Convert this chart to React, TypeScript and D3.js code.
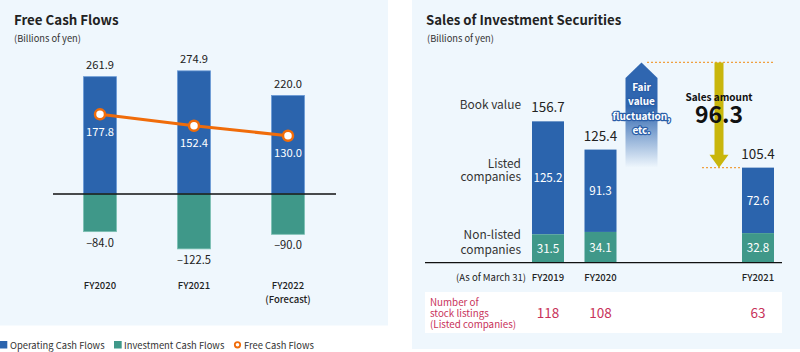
import React from "react";
import * as d3 from "d3";

// ---------- Left chart data ----------
const fcfCategories = ["FY2020", "FY2021", "FY2022"];
const fcfSubLabels = ["", "", "(Forecast)"];
const operatingCF = [261.9, 274.9, 220.0];
const investmentCF = [-84.0, -122.5, -90.0];
const freeCF = [177.8, 152.4, 130.0];
const legendLabels = ["Operating Cash Flows", "Investment Cash Flows", "Free Cash Flows"];

// ---------- Right chart data ----------
const secCategories = ["FY2019", "FY2020", "FY2021"];
const listedValues = [125.2, 91.3, 72.6];
const nonListedValues = [31.5, 34.1, 32.8];
const stockListings = [118, 108, 63];
const salesAmount = 96.3;
const preSaleLevel = 222; // decorative level of the upper dotted line
const fvLines = ["Fair", "value", "fluctuation,", "etc."];

const BLUE = "#2b64ad";
const BLUE_STROKE = "#6b9bd6";
const GREEN = "#3f9889";
const GREEN_STROKE = "#7cc0b3";
const ORANGE = "#f06c0a";
const PINK = "#c8325a";
const FONT = "'Noto Sans CJK JP', 'Noto Sans', sans-serif";

export default function App() {
  // Left scales
  const xL = d3.scalePoint<string>().domain(fcfCategories).range([100, 288]);
  const yL = d3.scaleLinear().domain([-150, 300]).range([194 + 150 * 0.448, 194 - 300 * 0.448]);
  const bwL = 33;
  const line = d3
    .line<number>()
    .x((_, i) => xL(fcfCategories[i])!)
    .y((d) => yL(d));

  // Right scales
  const xR = d3
    .scalePoint<string>()
    .domain(["FY2019", "FY2020", "_fv", "_sales", "FY2021"])
    .range([548, 758]);
  const yR = d3.scaleLinear().domain([0, 160]).range([262.7, 262.7 - 160 * 0.902]);
  const bwR = 32;

  const fvX = xR("FY2020")! + 41;
  const salesX = xR("FY2021")! - 39;
  const topY = yR(preSaleLevel);
  const lastTotal = listedValues[2] + nonListedValues[2];
  const lastTopY = yR(lastTotal);

  return (
    <>
      <style>{`body{margin:0}`}</style>
      <svg width={800} height={352} style={{ display: "block", fontFamily: FONT }}>
        <defs>
          <linearGradient id="fvGrad" x1="0" y1="0" x2="0" y2="1">
            <stop offset="0" stopColor="#2f66b0" stopOpacity={1} />
            <stop offset="0.42" stopColor="#2f66b0" stopOpacity={1} />
            <stop offset="1" stopColor="#2f66b0" stopOpacity={0} />
          </linearGradient>
        </defs>
        <rect x={0} y={0} width={800} height={352} fill="#ffffff" />
        {/* ---------------- Left panel ---------------- */}
        <rect x={0} y={0} width={388} height={325.5} fill="#eff7fd" />
        <text x={14} y={25} fontSize={13.3} fontWeight={700} fill="#222">
          Free Cash Flows
        </text>
        <text x={14} y={42} fontSize={9.3} fill="#333">
          (Billions of yen)
        </text>
        {fcfCategories.map((c, i) => {
          const cx = xL(c)!;
          return (
            <g key={c}>
              <rect
                x={cx - bwL / 2}
                y={yL(operatingCF[i])}
                width={bwL}
                height={yL(0) - yL(operatingCF[i])}
                fill={BLUE}
                stroke={BLUE_STROKE}
                strokeWidth={0.8}
              />
              <rect
                x={cx - bwL / 2}
                y={yL(0)}
                width={bwL}
                height={yL(investmentCF[i]) - yL(0)}
                fill={GREEN}
                stroke={GREEN_STROKE}
                strokeWidth={0.8}
              />
              <text x={cx} y={yL(operatingCF[i]) - 7.5} textAnchor="middle" fontSize={11.2} fill="#222">
                {operatingCF[i].toFixed(1)}
              </text>
              <text x={cx} y={yL(investmentCF[i]) + 15} textAnchor="middle" fontSize={11.2} fill="#222">
                {"\u2013" + Math.abs(investmentCF[i]).toFixed(1)}
              </text>
              <text x={cx} y={yL(freeCF[i]) + 21.7} textAnchor="middle" fontSize={11.2} fill="#fff">
                {freeCF[i].toFixed(1)}
              </text>
              <text x={cx} y={289.3} textAnchor="middle" fontSize={9.5} fontWeight={500} fill="#222">
                {c}
              </text>
              {fcfSubLabels[i] && (
                <text x={cx} y={302.5} textAnchor="middle" fontSize={9.5} fontWeight={500} fill="#222">
                  {fcfSubLabels[i]}
                </text>
              )}
            </g>
          );
        })}
        <line x1={53} x2={336} y1={yL(0)} y2={yL(0)} stroke="#111" strokeWidth={1.3} />
        <path d={line(freeCF)!} fill="none" stroke={ORANGE} strokeWidth={3} />
        {freeCF.map((v, i) => (
          <circle key={i} cx={xL(fcfCategories[i])!} cy={yL(v)} r={5} fill="#fff" stroke={ORANGE} strokeWidth={2.5} />
        ))}
        {/* Legend */}
        <rect x={-1} y={341} width={8.3} height={7.5} fill={BLUE} />
        <text x={10} y={349} fontSize={9.4} fill="#333">{legendLabels[0]}</text>
        <rect x={114} y={341} width={7.7} height={7.5} fill={GREEN} />
        <text x={124} y={349} fontSize={9.4} fill="#333">{legendLabels[1]}</text>
        <circle cx={237.5} cy={344.8} r={2.7} fill="#fff" stroke={ORANGE} strokeWidth={1.8} />
        <text x={244} y={349} fontSize={9.4} fill="#333">{legendLabels[2]}</text>

        {/* ---------------- Right panel ---------------- */}
        <rect x={412} y={0} width={388} height={349} fill="#eff7fd" />
        <text x={426} y={25} fontSize={13.2} fontWeight={700} fill="#222">
          Sales of Investment Securities
        </text>
        <text x={427} y={42} fontSize={9.3} fill="#333">
          (Billions of yen)
        </text>
        {/* row labels */}
        <g fontSize={11.9} fill="#333" textAnchor="end">
          <text x={521} y={109}>Book value</text>
          <text x={521} y={167.5}>Listed</text>
          <text x={521} y={181}>companies</text>
          <text x={521} y={239.3}>Non-listed</text>
          <text x={521} y={253.5}>companies</text>
        </g>
        {secCategories.map((c, i) => {
          const cx = xR(c)!;
          const total = listedValues[i] + nonListedValues[i];
          return (
            <g key={c}>
              <rect
                x={cx - bwR / 2}
                y={yR(total)}
                width={bwR}
                height={yR(nonListedValues[i]) - yR(total)}
                fill={BLUE}
              />
              <rect
                x={cx - bwR / 2}
                y={yR(nonListedValues[i])}
                width={bwR}
                height={yR(0) - yR(nonListedValues[i])}
                fill={GREEN}
              />
              <text x={cx} y={yR(total) - 9} textAnchor="middle" fontSize={13.4} fill="#222">
                {total.toFixed(1)}
              </text>
              <text
                x={cx}
                y={(yR(total) + yR(nonListedValues[i])) / 2 + 4.2}
                textAnchor="middle"
                fontSize={11.7}
                fill="#fff"
              >
                {listedValues[i].toFixed(1)}
              </text>
              <text
                x={cx}
                y={(yR(nonListedValues[i]) + yR(0)) / 2 + 4.2}
                textAnchor="middle"
                fontSize={11.7}
                fill="#fff"
              >
                {nonListedValues[i].toFixed(1)}
              </text>
              <text x={cx} y={280.5} textAnchor="middle" fontSize={9.5} fontWeight={500} fill="#222">
                {c}
              </text>
            </g>
          );
        })}
        <line x1={425} x2={782} y1={yR(0)} y2={yR(0)} stroke="#111" strokeWidth={1.3} />
        <text x={526} y={280.5} textAnchor="end" fontSize={9.5} fill="#222">
          (As of March 31)
        </text>
        {/* listings box */}
        <rect x={425} y={292} width={357} height={41} fill="#ffffff" />
        <g fontSize={9.8} fill={PINK}>
          <text x={430} y={305.5}>Number of</text>
          <text x={430} y={316.5}>stock listings</text>
          <text x={430} y={327.5}>(Listed companies)</text>
        </g>
        {secCategories.map((c, i) => (
          <text key={c} x={xR(c)!} y={318.3} textAnchor="middle" fontSize={13.5} fill={PINK}>
            {stockListings[i]}
          </text>
        ))}
        {/* fair value arrow */}
        <path
          d={`M${fvX - 16},${topY + 15.5} L${fvX},${topY} L${fvX + 16},${topY + 15.5} L${fvX + 16},${lastTopY} L${fvX - 16},${lastTopY} Z`}
          fill="url(#fvGrad)"
        />
        <g
          fontSize={10}
          fontWeight={700}
          fill="#fff"
          stroke="#2a5ea8"
          strokeWidth={2.4}
          paintOrder="stroke"
          textAnchor="middle"
          strokeLinejoin="round"
        >
          {fvLines.map((t, i) => (
            <text key={t} x={fvX} y={91 + i * 14.3}>
              {t}
            </text>
          ))}
        </g>
        {/* dotted lines */}
        <line x1={647} x2={775} y1={topY} y2={topY} stroke="#f0a040" strokeWidth={1.3} strokeDasharray="2,2" />
        <line
          x1={702}
          x2={xR("FY2021")! - bwR / 2}
          y1={lastTopY}
          y2={lastTopY}
          stroke="#f0a040"
          strokeWidth={1.3}
          strokeDasharray="2,2"
        />
        {/* sales arrow */}
        <path
          d={`M${salesX - 4.5},${topY} L${salesX + 4.5},${topY} L${salesX + 4.5},${lastTopY - 13} L${salesX + 9.5},${lastTopY - 13} L${salesX},${lastTopY} L${salesX - 9.5},${lastTopY - 13} L${salesX - 4.5},${lastTopY - 13} Z`}
          fill="#c9b60c"
        />
        <text x={salesX} y={100.5} textAnchor="middle" fontSize={10} fontWeight={700} fill="#111">
          Sales amount
        </text>
        <text x={salesX} y={123.3} textAnchor="middle" fontSize={23} fontWeight={700} fill="#111">
          {salesAmount.toFixed(1)}
        </text>
      </svg>
    </>
  );
}
